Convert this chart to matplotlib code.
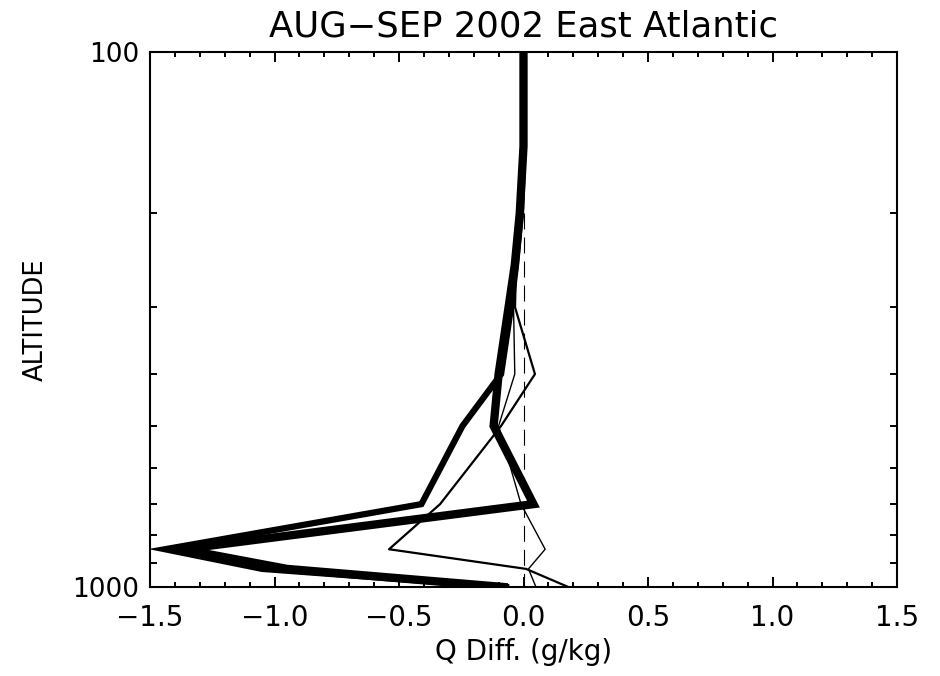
import numpy as np
import matplotlib
matplotlib.use("Agg")
import matplotlib.pyplot as plt
from matplotlib.ticker import FixedLocator, FixedFormatter, MultipleLocator, NullFormatter

plt.rcParams['font.family'] = ['DejaVu Sans']
plt.rcParams['lines.scale_dashes'] = False

# ---- data ----
levels = [1000, 925, 850, 700, 500, 400, 300, 250, 200, 150, 100]
q_diff_a = [-0.07, -1.05, -1.44, -0.41, -0.245, -0.09, -0.05, -0.03, -0.01, 0.0, 0.0]
q_diff_b = [-0.08, -0.95, -1.37, 0.04, -0.12, -0.10, -0.06, -0.035, -0.015, 0.0, 0.0]
q_diff_c = [0.18, 0.01, -0.54, -0.335, -0.09, 0.046, -0.034, -0.03, -0.01, 0.0, 0.0]
q_diff_d = [0.05, 0.02, 0.087, -0.01, -0.10, -0.035, -0.04, -0.03, -0.01, 0.0, 0.0]
zero_levels = [200, 1000]
zero_vals = [0.0, 0.0]

x_ticks = [-1.5, -1.0, -0.5, 0.0, 0.5, 1.0, 1.5]
x_tick_labels = ['\u22121.5', '\u22121.0', '\u22120.5', '0.0', '0.5', '1.0', '1.5']
y_ticks = [100, 1000]
y_tick_labels = ['100', '1000']
y_minor = [200, 300, 400, 500, 600, 700, 800, 900]

title = 'AUG\u2212SEP 2002 East Atlantic'
xlabel = 'Q Diff. (g/kg)'
ylabel = 'ALTITUDE'

# ---- figure ----
fig = plt.figure(figsize=(9.4, 6.76), dpi=100)
W, H = 940, 676
l, r, t, b = 150, 897, 52, 587
ax = fig.add_axes([l / W, 1 - b / H, (r - l) / W, (b - t) / H])

ax.plot(zero_vals, zero_levels, color='black', lw=0.8, dashes=(11.5, 5.8))
ax.plot(q_diff_a, levels, color='black', lw=4.5, solid_joinstyle='miter')
ax.plot(q_diff_b, levels, color='black', lw=6.0, solid_joinstyle='miter')
ax.plot(q_diff_c, levels, color='black', lw=1.6)
ax.plot(q_diff_d, levels, color='black', lw=1.0)

ax.set_yscale('log')
ax.set_ylim(1000, 100)
ax.set_xlim(-1.5, 1.5)

ax.xaxis.set_major_locator(FixedLocator(x_ticks))
ax.xaxis.set_major_formatter(FixedFormatter(x_tick_labels))
ax.xaxis.set_minor_locator(MultipleLocator(0.1))
ax.yaxis.set_major_locator(FixedLocator(y_ticks))
ax.yaxis.set_major_formatter(FixedFormatter(y_tick_labels))
ax.yaxis.set_minor_locator(FixedLocator(y_minor))
ax.yaxis.set_minor_formatter(NullFormatter())

ax.tick_params(which='both', direction='in', top=True, right=True, color='black', width=1.4)
ax.tick_params(axis='x', which='major', length=7.2, labelsize=20, pad=12)
ax.tick_params(axis='x', which='minor', length=3.6)
ax.tick_params(axis='y', which='major', length=10, labelsize=19, pad=8)
ax.tick_params(axis='y', which='minor', length=5)

for s in ax.spines.values():
    s.set_linewidth(1.5)

ax.set_title(title, fontsize=25.5, pad=11)
ax.set_xlabel(xlabel, fontsize=20)
ax.xaxis.set_label_coords(0.5, -0.095)
ax.xaxis.label.set_va('top')
ax.set_ylabel(ylabel, fontsize=18.5)
ax.yaxis.set_label_coords(-0.135, 0.5)

fig.savefig('out.png', dpi=100)
